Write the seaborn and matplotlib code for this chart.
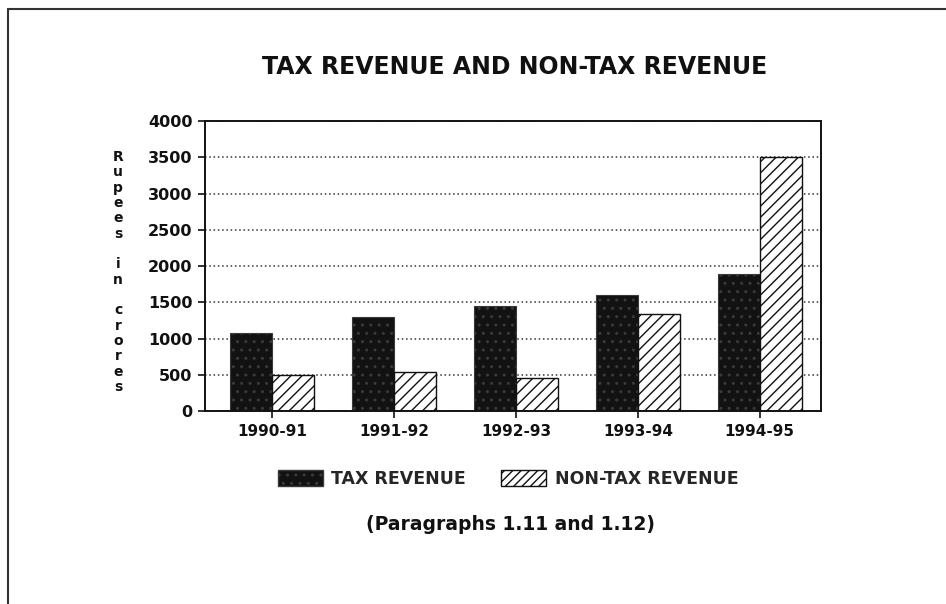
import matplotlib
matplotlib.use("Agg")
import matplotlib.pyplot as plt
from matplotlib.patches import Patch
from matplotlib.lines import Line2D
import pandas as pd
import seaborn as sns

# Revenue figures, Rupees in crores
years = ["1990-91", "1991-92", "1992-93", "1993-94", "1994-95"]
tax_revenue = [1070, 1300, 1445, 1600, 1895]
non_tax_revenue = [500, 540, 455, 1345, 3500]
series_names = ["TAX REVENUE", "NON-TAX REVENUE"]
y_ticks = [0, 500, 1000, 1500, 2000, 2500, 3000, 3500, 4000]

df = pd.DataFrame({
    "year": years * 2,
    "value": tax_revenue + non_tax_revenue,
    "series": [series_names[0]] * len(years) + [series_names[1]] * len(years),
})

sns.set_theme(style="white")
plt.rcParams["font.family"] = ["DejaVu Sans"]
plt.rcParams["font.weight"] = "bold"
plt.rcParams["hatch.linewidth"] = 1.0

fig = plt.figure(figsize=(9.46, 6.04), dpi=100)
fig.patch.set_facecolor("white")
ax = fig.add_axes([0.2167, 0.3195, 0.6512, 0.4801])

sns.barplot(data=df, x="year", y="value", hue="series", order=years,
            hue_order=series_names, palette=["#151515", "white"],
            width=0.69, saturation=1, legend=False, ax=ax)

# stippled dark fill for tax bars, diagonal hatch for non-tax bars
for bar in ax.containers[0]:
    bar.set_facecolor("#121212")
    bar.set_edgecolor("#3a3a3a")
    bar.set_hatch("..")
    bar.set_linewidth(0.8)
for bar in ax.containers[1]:
    bar.set_facecolor("white")
    bar.set_edgecolor("#111111")
    bar.set_hatch("///")
    bar.set_linewidth(1.0)

ax.set_xlim(-0.553, 4.504)
ax.set_ylim(0, 4000)
ax.set_yticks(y_ticks)
ax.set_yticklabels([str(v) for v in y_ticks], fontsize=11.5, fontweight="bold")
ax.set_xticks(range(len(years)))
ax.set_xticklabels(years, fontsize=11, fontweight="bold")
ax.set_xlabel("")
ax.set_ylabel("")
ax.tick_params(axis="both", direction="out", length=5, width=1.2, color="#111111",
               labelcolor="#111111", bottom=True, left=True, pad=4)

for s in ax.spines.values():
    s.set_visible(True)
    s.set_color("#111111")
    s.set_linewidth(1.4)

ax.set_axisbelow(True)
ax.yaxis.grid(True, linestyle=(0, (1.0, 1.8)), linewidth=1.1, color="#333333")
ax.xaxis.grid(False)

# vertical axis caption, stacked letters
fig.text(118 / 946, 1 - 272 / 604, "R\nu\np\ne\ne\ns\n\ni\nn\n\nc\nr\no\nr\ne\ns",
         ha="center", va="center", fontsize=10, fontweight="bold",
         linespacing=1.12, color="#111111")

fig.text(515 / 946, 1 - 67 / 604, "TAX REVENUE AND NON-TAX REVENUE",
         ha="center", va="center", fontsize=17, fontweight="bold", color="#111111")

handles = [
    Patch(facecolor="#121212", edgecolor="#3a3a3a", hatch=".."),
    Patch(facecolor="white", edgecolor="#111111", hatch="////"),
]
fig.legend(handles, series_names, loc="center", bbox_to_anchor=(508 / 946, 1 - 479 / 604),
           ncol=2, frameon=False, handlelength=2.6, handleheight=1.0,
           columnspacing=2.0, handletextpad=0.5, prop={"weight": "bold", "size": 12.5})

fig.text(510 / 946, 1 - 524 / 604, "(Paragraphs 1.11 and 1.12)",
         ha="center", va="center", fontsize=13.5, fontweight="bold", color="#111111")

# page border lines
fig.add_artist(Line2D([8 / 946, 1.0], [1 - 9 / 604, 1 - 9 / 604],
                      transform=fig.transFigure, color="#333333", linewidth=1.5))
fig.add_artist(Line2D([8 / 946, 8 / 946], [1 - 9 / 604, 0.0],
                      transform=fig.transFigure, color="#333333", linewidth=1.5))

fig.savefig("out.png", dpi=100)
